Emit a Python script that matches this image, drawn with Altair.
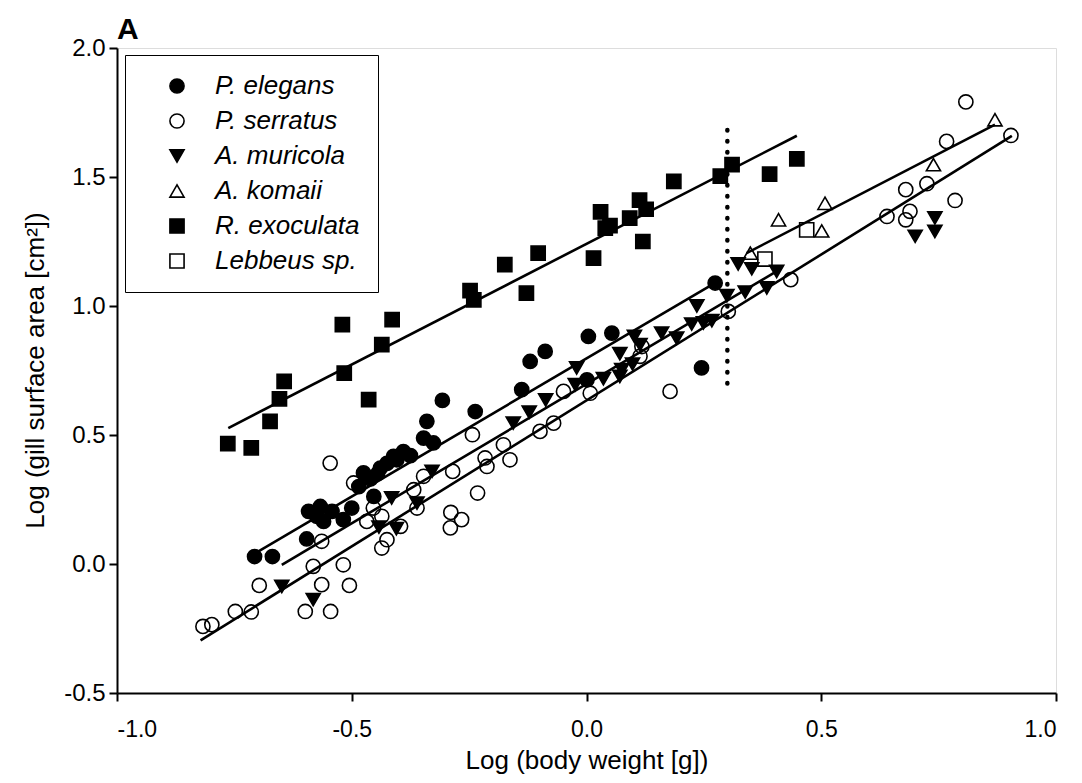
import altair as alt
import pandas as pd

# ---- data ----
species = ["P. elegans", "P. serratus", "A. muricola", "A. komaii", "R. exoculata", "Lebbeus sp."]
shapes = ["circle", "circle", "triangle-down", "triangle-up", "square", "square"]
fills = ["black", "transparent", "black", "transparent", "black", "transparent"]
strokes = ["black", "black", "black", "black", "black", "black"]

pe_x = [-0.707, -0.669, -0.596, -0.592, -0.575, -0.567, -0.560, -0.542, -0.518, -0.500, -0.485,
        -0.475, -0.460, -0.453, -0.445, -0.439, -0.425, -0.411, -0.404, -0.390, -0.375, -0.347,
        -0.340, -0.326, -0.307, -0.237, -0.138, -0.120, -0.088, 0.001, 0.004, 0.054, 0.245, 0.274]
pe_y = [0.029, 0.029, 0.097, 0.204, 0.185, 0.223, 0.165, 0.204, 0.172, 0.217, 0.300,
        0.353, 0.330, 0.262, 0.350, 0.372, 0.390, 0.417, 0.404, 0.436, 0.420, 0.488,
        0.553, 0.469, 0.634, 0.591, 0.676, 0.785, 0.824, 0.714, 0.882, 0.895, 0.760, 1.089]

ps_x = [-0.817, -0.798, -0.748, -0.714, -0.697, -0.599, -0.545, -0.582, -0.564, -0.518, -0.505,
        -0.564, -0.546, -0.496, -0.468, -0.454, -0.436, -0.436, -0.425, -0.396, -0.361, -0.368,
        -0.347, -0.285, -0.289, -0.266, -0.290, -0.232, -0.216, -0.212, -0.243, -0.177, -0.163,
        -0.099, -0.070, -0.049, 0.008, 0.114, 0.118, 0.178, 0.302, 0.435, 0.640, 0.680, 0.689,
        0.680, 0.725, 0.767, 0.785, 0.808, 0.904]
ps_y = [-0.242, -0.235, -0.184, -0.186, -0.083, -0.184, -0.184, -0.009, -0.080, -0.003, -0.083,
        0.088, 0.391, 0.314, 0.165, 0.217, 0.185, 0.062, 0.094, 0.146, 0.217, 0.288,
        0.340, 0.359, 0.200, 0.172, 0.140, 0.275, 0.411, 0.378, 0.501, 0.462, 0.404,
        0.514, 0.546, 0.669, 0.662, 0.805, 0.843, 0.669, 0.979, 1.102, 1.347, 1.334, 1.367,
        1.451, 1.474, 1.638, 1.409, 1.791, 1.661]

am_x = [-0.649, -0.582, -0.442, -0.405, -0.415, -0.361, -0.329, -0.156, -0.122, -0.087, -0.024,
        -0.021, 0.036, 0.071, 0.075, 0.071, 0.098, 0.102, 0.114, 0.160, 0.192, 0.224, 0.235,
        0.249, 0.267, 0.299, 0.323, 0.338, 0.352, 0.384, 0.405, 0.700, 0.742, 0.742]
am_y = [-0.087, -0.138, 0.143, 0.137, 0.256, 0.236, 0.359, 0.546, 0.588, 0.636, 0.695,
        0.760, 0.718, 0.727, 0.753, 0.815, 0.775, 0.882, 0.850, 0.895, 0.875, 0.930, 1.000,
        0.934, 0.943, 1.040, 1.163, 1.054, 1.144, 1.070, 1.134, 1.270, 1.341, 1.289]

ak_x = [0.349, 0.409, 0.508, 0.501, 0.739, 0.870]
ak_y = [1.205, 1.334, 1.398, 1.291, 1.548, 1.722]

re_x = [-0.764, -0.714, -0.674, -0.654, -0.644, -0.520, -0.516, -0.464, -0.436, -0.414, -0.248,
        -0.240, -0.174, -0.128, -0.103, 0.015, 0.030, 0.040, 0.050, 0.092, 0.113, 0.127, 0.120,
        0.186, 0.285, 0.310, 0.390, 0.448]
re_y = [0.467, 0.450, 0.553, 0.640, 0.708, 0.928, 0.740, 0.637, 0.850, 0.947, 1.060,
        1.024, 1.160, 1.050, 1.205, 1.186, 1.365, 1.302, 1.312, 1.341, 1.410, 1.375, 1.250,
        1.483, 1.503, 1.548, 1.511, 1.570]

lb_x = [0.380, 0.469]
lb_y = [1.182, 1.295]

# regression lines (end points)
fit_species = ["R. exoculata", "P. elegans", "A. muricola", "P. serratus", "A. komaii"]
fit_x0 = [-0.763, -0.707, -0.649, -0.822, 0.341]
fit_y0 = [0.527, 0.040, -0.003, -0.296, 1.205]
fit_x1 = [0.448, 0.274, 0.410, 0.906, 0.870]
fit_y1 = [1.660, 1.090, 1.140, 1.659, 1.703]

# dotted reference line
ref_x = [0.30]
ref_y0 = [0.70]
ref_y1 = [1.72]

# ---- tables ----
rows = []
for name, xs, ys in [("P. elegans", pe_x, pe_y), ("P. serratus", ps_x, ps_y),
                     ("A. muricola", am_x, am_y), ("A. komaii", ak_x, ak_y),
                     ("R. exoculata", re_x, re_y), ("Lebbeus sp.", lb_x, lb_y)]:
    for a, b in zip(xs, ys):
        rows.append({"species": name, "x": a, "y": b})
pts = pd.DataFrame(rows)

lrows = []
for s, a0, b0, a1, b1 in zip(fit_species, fit_x0, fit_y0, fit_x1, fit_y1):
    lrows.append({"fit": s, "x": a0, "y": b0})
    lrows.append({"fit": s, "x": a1, "y": b1})
lines = pd.DataFrame(lrows)

ref = pd.DataFrame({"x": ref_x, "y": ref_y0, "y2": ref_y1})

FONT = "Liberation Sans"
MINUS_FIX = "replace(datum.label, '\u2212', '-')"

xscale = alt.Scale(domain=[-1.0, 1.0], nice=False, zero=False)
yscale = alt.Scale(domain=[-0.5, 2.0], nice=False, zero=False)

xaxis = alt.Axis(
    title="Log (body weight [g])", values=[-1.0, -0.5, 0.0, 0.5, 1.0], format=".1f",
    labelExpr=MINUS_FIX,
    grid=False, domainColor="black", domainWidth=2, tickColor="black", tickWidth=2,
    tickSize=8, labelFontSize=23, labelFont=FONT, labelColor="black", labelPadding=17,
    titleFontSize=26, titleFont=FONT, titleFontWeight="normal", titleColor="black",
    titleY=67, titleBaseline="middle",
)
yaxis = alt.Axis(
    title="Log (gill surface area [cm²])", values=[-0.5, 0.0, 0.5, 1.0, 1.5, 2.0], format=".1f",
    labelExpr=MINUS_FIX,
    grid=False, domainColor="black", domainWidth=2, tickColor="black", tickWidth=2,
    tickSize=8, labelFontSize=24, labelFont=FONT, labelColor="black", labelPadding=4,
    titleFontSize=26, titleFont=FONT, titleFontWeight="normal", titleColor="black",
    titleX=-82, titleY=322, titleAngle=270, titleAlign="center", titleBaseline="middle",
)

legend = alt.Legend(
    title=None, orient="none", legendX=8, legendY=7,
    fillColor="white", strokeColor="black", padding=18,
    labelFont=FONT, labelFontSize=26, labelFontStyle="italic", labelColor="black",
    labelOffset=25, symbolOffset=21, symbolSize=200, symbolStrokeColor="black",
    symbolStrokeWidth=1.6, rowPadding=9,
)

points = alt.Chart(pts).mark_point(filled=False, strokeWidth=1.6, size=200, opacity=1).encode(
    x=alt.X("x:Q", scale=xscale, axis=xaxis),
    y=alt.Y("y:Q", scale=yscale, axis=yaxis),
    shape=alt.Shape("species:N", scale=alt.Scale(domain=species, range=shapes), legend=legend),
    fill=alt.Fill("species:N", scale=alt.Scale(domain=species, range=fills), legend=legend),
    stroke=alt.Stroke("species:N", scale=alt.Scale(domain=species, range=strokes), legend=legend),
)

fitlines = alt.Chart(lines).mark_line(color="black", strokeWidth=2.6).encode(
    x=alt.X("x:Q", scale=xscale),
    y=alt.Y("y:Q", scale=yscale),
    detail="fit:N",
)

dotted = alt.Chart(ref).mark_rule(color="black", strokeWidth=4.5, strokeDash=[0.5, 10.5], strokeCap="round").encode(
    x=alt.X("x:Q", scale=xscale),
    y=alt.Y("y:Q", scale=yscale),
    y2="y2:Q",
)

chart = alt.layer(points, fitlines, dotted).properties(
    width=939, height=645,
    title=alt.TitleParams("A", anchor="start", frame="group", font=FONT, fontSize=30,
                          fontWeight="bold", color="black", offset=6, dy=15),
    autosize=alt.AutoSizeParams(type="none"),
    padding={"left": 109, "top": 40, "right": 18, "bottom": 82},
).configure_view(stroke="black", strokeWidth=2).configure(background="white")

chart.save("out.html", embed_options={"renderer": "svg", "actions": False})
